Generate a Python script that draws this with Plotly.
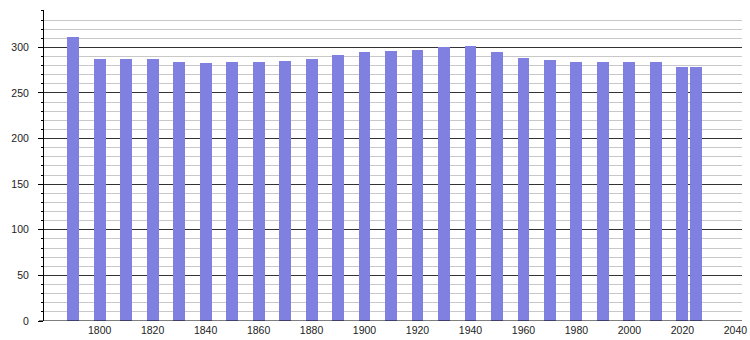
import plotly.graph_objects as go

years = [1790, 1800, 1810, 1820, 1830, 1840, 1850, 1860, 1870, 1880, 1890, 1900,
         1910, 1920, 1930, 1940, 1950, 1960, 1970, 1980, 1990, 2000, 2010, 2020, 2025]
population = [311, 287, 287, 287, 284, 283, 284, 284, 285, 287, 292, 295,
              296, 297, 300, 302, 295, 288, 286, 284, 284, 284, 284, 278, 278]
x_tick_values = [1800, 1820, 1840, 1860, 1880, 1900, 1920, 1940, 1960, 1980, 2000, 2020, 2040]
y_tick_values = [0, 50, 100, 150, 200, 250, 300]

fig = go.Figure()
fig.add_trace(go.Bar(x=years, y=population, width=4.5,
                     marker=dict(color="#8080e0", line=dict(width=0))))

fig.update_layout(
    width=750, height=340,
    margin=dict(l=44, r=8, t=10, b=19),
    paper_bgcolor="white", plot_bgcolor="white",
    showlegend=False,
    font=dict(family="Liberation Sans, Arial, sans-serif", size=10.5, color="#222"),
    bargap=0,
)
fig.update_xaxes(
    range=[1779, 2042.5], tickvals=x_tick_values, ticks="", showgrid=False,
    zeroline=False, showline=False, ticklabelstandoff=1, automargin=False,
)
fig.update_yaxes(
    range=[0, 341], tickvals=y_tick_values, ticks="outside", ticklen=5,
    tickcolor="black", showline=True, linecolor="black", linewidth=1,
    showgrid=True, gridcolor="#333", gridwidth=1, zeroline=False,
    ticklabelstandoff=7, automargin=False,
    minor=dict(dtick=10, ticks="outside", ticklen=2, tickcolor="black",
               showgrid=True, gridcolor="#c8c8c8", gridwidth=1),
)
fig.add_shape(type="line", xref="paper", yref="y", x0=-5/698, x1=1, y0=0, y1=0,
              line=dict(color="black", width=1.2), layer="above")

fig.write_html("out.html")
